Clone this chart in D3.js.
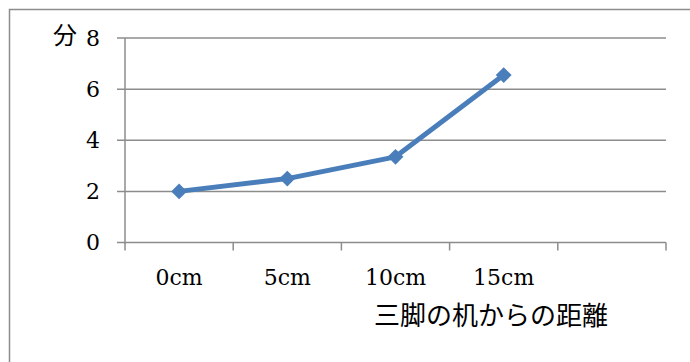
<!DOCTYPE html>
<html>
<head>
<meta charset="utf-8">
<script src="https://cdn.jsdelivr.net/npm/d3@7"></script>
<style>
  body { margin: 0; background: #fff; }
  svg { display: block; }
</style>
</head>
<body>
<svg id="chart" width="690" height="362"></svg>
<script>
// Data
const categories = ['0cm', '5cm', '10cm', '15cm', ''];
const values = [2.0, 2.5, 3.35, 6.55];
const yTicks = [0, 2, 4, 6, 8];
const yUnit = '分';
const xTitle = '三脚の机からの距離';

const svg = d3.select('#chart');
const margin = { left: 125, right: 24, top: 38, bottom: 119 };

const serif = "'DejaVu Serif', 'Liberation Serif', serif";
const cjk = "'Noto Sans CJK JP', sans-serif";

// Outer frame (only top/left edges visible)
svg.append('rect')
  .attr('x', 9.5).attr('y', 9.5)
  .attr('width', 720).attr('height', 400)
  .attr('fill', 'none')
  .attr('stroke', '#8c8c8c')
  .attr('stroke-width', 1.5);

const x = d3.scaleBand()
  .domain(d3.range(categories.length))
  .range([margin.left, 666]);

const y = d3.scaleLinear()
  .domain([0, 8])
  .range([242.5, margin.top]);

const grid = svg.append('g');
// Horizontal gridlines with left ticks
grid.selectAll('line.h')
  .data(yTicks)
  .enter()
  .append('line')
  .attr('class', 'h')
  .attr('x1', margin.left - 8)
  .attr('x2', 666)
  .attr('y1', d => y(d))
  .attr('y2', d => y(d))
  .attr('stroke', '#8c8c8c')
  .attr('stroke-width', 1.5);

// Y axis line
grid.append('line')
  .attr('x1', margin.left).attr('x2', margin.left)
  .attr('y1', y(8)).attr('y2', y(0) + 1)
  .attr('stroke', '#8c8c8c')
  .attr('stroke-width', 1.5);

// X ticks at band edges
const edges = d3.range(categories.length + 1).map(i =>
  i < categories.length ? x(i) : x(categories.length - 1) + x.bandwidth());
grid.selectAll('line.xt')
  .data(edges)
  .enter()
  .append('line')
  .attr('class', 'xt')
  .attr('x1', d => d).attr('x2', d => d)
  .attr('y1', y(0)).attr('y2', y(0) + 8)
  .attr('stroke', '#8c8c8c')
  .attr('stroke-width', 1.5);

// Y tick labels
svg.append('g').selectAll('text')
  .data(yTicks)
  .enter()
  .append('text')
  .attr('x', 100)
  .attr('y', d => y(d))
  .attr('dy', '0.36em')
  .attr('text-anchor', 'end')
  .attr('font-family', serif)
  .attr('font-size', 22)
  .text(d => d);

svg.append('text')
  .attr('x', 53).attr('y', 44)
  .attr('font-family', cjk)
  .attr('font-size', 24)
  .text(yUnit);

// Category labels
svg.append('g').selectAll('text')
  .data(categories)
  .enter()
  .append('text')
  .attr('x', (d, i) => x(i) + x.bandwidth() / 2)
  .attr('y', 285)
  .attr('text-anchor', 'middle')
  .attr('font-family', serif)
  .attr('font-size', 22)
  .text(d => d);

// X axis title
svg.append('text')
  .attr('x', 491).attr('y', 325)
  .attr('text-anchor', 'middle')
  .attr('font-family', cjk)
  .attr('font-size', 26)
  .text(xTitle);

// Series line
const line = d3.line()
  .x((d, i) => x(i) + x.bandwidth() / 2)
  .y(d => y(d));

svg.append('path')
  .datum(values)
  .attr('d', line)
  .attr('fill', 'none')
  .attr('stroke', '#4a7ebb')
  .attr('stroke-width', 5)
  .attr('stroke-linejoin', 'round');

// Diamond markers
svg.append('g').selectAll('path')
  .data(values)
  .enter()
  .append('path')
  .attr('d', d3.symbol().type(d3.symbolDiamond2).size(160))
  .attr('transform', (d, i) => `translate(${x(i) + x.bandwidth() / 2},${y(d)})`)
  .attr('fill', '#4a7ebb');
</script>
</body>
</html>
